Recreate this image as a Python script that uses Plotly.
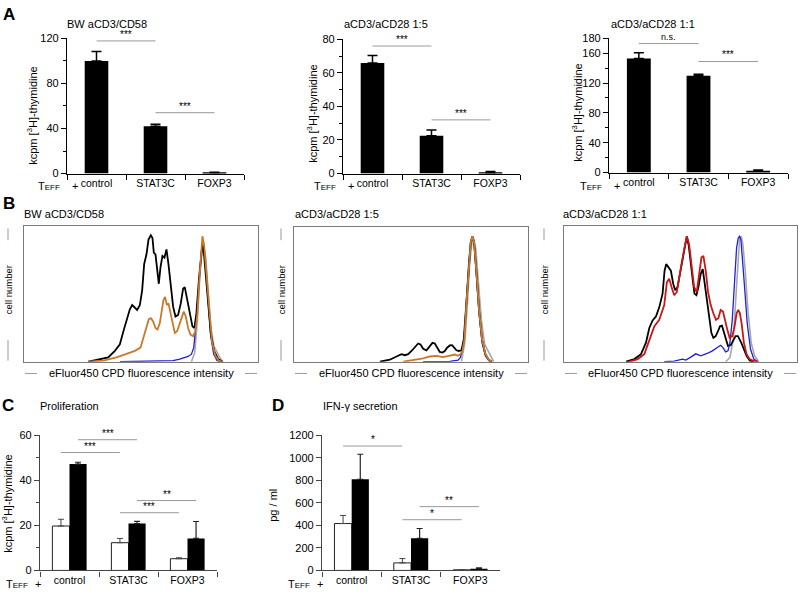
import plotly.graph_objects as go

W, H = 800, 597
FONT = "Liberation Sans, Arial, sans-serif"

# ---------------- data ----------------
groups = ["control", "STAT3C", "FOXP3"]

a_titles = ["BW aCD3/CD58", "aCD3/aCD28 1:5", "aCD3/aCD28 1:1"]
a1_mean = [100, 42, 0.8]
a1_err = [8.4, 1.8, 0.3]
a2_mean = [65.9, 22.6, 0.5]
a2_err = [4.5, 3.3, 0.7]
a3_mean = [153, 129.7, 2.5]
a3_err = [7.7, 2.1, 1.0]
# significance: (from group, to group, level, label)
a1_sig = [(0, 1, 117.7, "***"), (1, 2, 54, "***")]
a2_sig = [(0, 1, 76, "***"), (1, 2, 32, "***")]
a3_sig = [(0, 1, 173, "n.s."), (1, 2, 149, "***")]

# Panel C (proliferation) white = without, black = with
c_white = [19.7, 12.3, 5.2]
c_white_err = [3.0, 1.9, 0.4]
c_black = [47.2, 20.8, 14.2]
c_black_err = [0.8, 1.0, 7.5]
# (from group, from series, to group, to series, level, label) series 0 white, 1 black
c_sig = [(0, 1, 1, 1, 58, "***"), (0, 0, 1, 0, 52.3, "***"),
         (1, 1, 2, 1, 31, "**"), (1, 0, 2, 0, 25.6, "***")]

# Panel D (IFN-gamma)
d_white = [416, 67, 5]
d_white_err = [72, 38, 1]
d_black = [808, 285, 15]
d_black_err = [223, 87, 8]
d_sig = [(0, 1, 1, 1, 1220, "*"), (0, 0, 1, 0, 1104, "*"),
         (1, 1, 2, 1, 566, "**"), (1, 0, 2, 0, 450, "*")]

# Panel B histograms (fluorescence channel, cell count)
h1_black_x = [205,240,265,285,300,312,320,330,337,345,352,360,367,373,380,386,393,398,402,407,412,417,422,428,434,440,446,453,460,467,475,483,490,495,502,510,518,524,530,538,544,548,552,558,565,573,583,595,608]
h1_black_y = [0,8,13,33,53,98,128,160,173,166,158,173,218,298,328,373,386,378,333,328,288,238,288,323,318,343,298,228,168,138,143,178,223,228,188,143,108,103,148,258,328,358,338,268,168,88,33,8,0]
h1_orange_x = [205,250,290,320,345,362,372,380,387,393,400,407,413,420,426,431,436,441,446,452,458,465,472,480,487,492,498,505,512,520,527,533,538,543,548,553,560,568,577,587,597,607]
h1_orange_y = [0,3,13,23,33,43,78,113,130,133,123,103,98,118,163,188,198,173,178,148,113,88,93,118,143,153,138,103,83,78,93,148,238,328,383,358,268,148,58,18,3,0]
h1_blue_x = [300,400,460,480,495,505,515,522,528,534,540,545,549,553,558,565,573,582,592,602]
h1_blue_y = [0,1,3,8,13,16,23,43,108,198,288,338,353,343,288,178,78,23,3,0]
h1_gray_x = [515,525,533,540,547,552,558,565,573,582,592,600,610]
h1_gray_y = [0,28,128,258,338,353,318,218,108,48,28,13,0]

h2_black_x = [270,300,320,335,345,355,365,375,385,392,400,410,420,428,435,443,450,458,465,472,480,487,493,500,507,515,522,530,537,543,548,553,560,568,577,587,597,607]
h2_black_y = [0,6,16,23,20,23,33,46,56,53,40,35,50,58,56,43,30,28,33,43,50,51,43,35,33,35,68,178,298,368,386,368,278,158,68,23,6,0]
h2_orange_x = [340,370,400,420,440,460,480,495,505,512,518,524,530,537,543,548,553,560,568,577,587,597,607]
h2_orange_y = [0,4,10,16,18,14,18,22,18,23,33,68,178,298,368,386,368,278,158,68,23,6,0]
h2_blue_x = [400,480,505,512,518,524,530,537,543,548,553,560,568,577,587,600]
h2_blue_y = [0,1,5,13,38,88,188,308,368,383,363,268,148,58,18,0]
h2_gray_x = [515,525,533,540,547,552,558,566,575,585,595,603,612]
h2_gray_y = [0,58,178,308,368,378,348,238,128,53,33,18,0]

h3_black_x = [215,240,260,275,285,295,305,315,325,331,336,343,350,357,363,370,378,385,392,398,404,410,416,421,427,433,440,446,452,458,465,472,478,485,492,498,504,510,516,522,530,538,545,552,558,563,570,578,588,600]
h3_black_y = [0,8,23,58,103,126,138,166,208,278,298,288,278,238,218,228,273,308,358,383,353,308,248,208,203,228,268,283,238,178,128,88,73,78,93,108,110,88,63,48,50,63,78,78,68,56,38,18,3,0]
h3_red_x = [225,250,270,285,300,315,330,338,345,352,360,368,375,382,390,398,405,412,420,428,435,442,448,455,462,470,478,486,493,500,507,514,520,527,535,542,548,553,558,563,570,578,587,598,610]
h3_red_y = [0,8,23,68,108,128,173,243,253,228,203,213,263,298,343,383,358,298,228,213,268,318,323,278,213,173,148,128,133,158,153,118,98,73,78,108,148,158,148,118,58,23,8,3,0]
h3_blue_x = [330,360,385,395,410,425,440,455,465,475,485,495,500,507,515,522,528,535,542,548,553,557,561,566,572,580,590,600,612]
h3_blue_y = [0,2,8,5,14,24,18,23,28,33,40,48,50,43,30,33,58,128,248,348,378,383,373,318,228,118,38,8,0]
h3_gray_x = [515,528,538,546,552,557,562,567,574,582,592,602,615]
h3_gray_y = [0,13,68,208,328,378,383,358,278,158,58,18,0]

# ---------------- helpers ----------------
def px(x):
    return x / W

def py(y):
    return 1 - y / H

def dx(x0, x1):
    return [px(x0), px(x1)]

def dy(y0, y1):
    return [py(y1), py(y0)]

fig = go.Figure()
annotations = []
shapes = []
layout = dict(width=W, height=H, margin=dict(l=0, r=0, t=0, b=0),
              plot_bgcolor="white", paper_bgcolor="white", showlegend=False,
              font=dict(family=FONT, size=11, color="black"))

def ann(x, y, text, size=11, angle=0, bold=False, color="black"):
    if bold:
        text = "<b>" + text + "</b>"
    annotations.append(dict(x=px(x), y=py(y), xref="paper", yref="paper", text=text,
                            showarrow=False, xanchor="center", yanchor="middle",
                            textangle=angle, font=dict(size=size, color=color, family=FONT)))

def cat_xaxis(name, dom, linecolor):
    layout[name] = dict(domain=dom, type="category", categoryorder="array", categoryarray=groups,
                        range=[-0.5, 2.5], tickson="boundaries", ticks="outside", ticklen=5,
                        tickcolor=linecolor, showline=True, linecolor=linecolor, linewidth=1.2,
                        showgrid=False, zeroline=False, tickfont=dict(size=10.5),
                        anchor=name.replace("xaxis", "y"))

def num_yaxis(name, dom, rng, tickvals, minor_vals, linecolor):
    d = dict(domain=dom, range=rng, tickvals=tickvals, ticks="outside", ticklen=5,
             tickcolor=linecolor, showline=True, linecolor=linecolor, linewidth=1.2,
             showgrid=False, zeroline=False, tickfont=dict(size=11),
             anchor=name.replace("yaxis", "x"))
    if minor_vals:
        d["minor"] = dict(tickvals=minor_vals, ticks="outside", ticklen=3, tickcolor=linecolor, showgrid=False)
    layout[name] = d

def teff(axis_x, y, tdx, plusdx):
    ann(axis_x - tdx, y, "T<span style='font-size:8px'>EFF</span>", size=11)
    ann(axis_x + plusdx, y, "+", size=11)

# ---------------- Panel A ----------------
a_specs = [
    ("", 67, 244, 33, 171, a1_mean, a1_err, a1_sig, [0, 120], [0, 40, 80, 120], [20, 60, 100], 32, 112, 106.5),
    ("2", 343, 520, 34, 171, a2_mean, a2_err, a2_sig, [0, 80], [0, 20, 40, 60, 80], [10, 30, 50, 70], 312, 110, 385.5),
    ("3", 609, 788, 33, 170, a3_mean, a3_err, a3_sig, [0, 180], [0, 40, 80, 120, 160, 180], [20, 60, 100, 140], 577, 109, 653),
]
for i, (sfx, x0, x1, y0, y1, mean, err, sig, rng, tv, mv, ytx, yty, tcx) in enumerate(a_specs):
    xa, ya = "x" + sfx, "y" + sfx
    cat_xaxis("xaxis" + sfx, dx(x0, x1), "black")
    num_yaxis("yaxis" + sfx, dy(y0, y1), rng, tv, mv, "black")
    fig.add_trace(go.Bar(x=groups, y=mean, width=0.4, xaxis=xa, yaxis=ya,
                         marker=dict(color="black", line=dict(width=0)),
                         error_y=dict(type="data", array=err, arrayminus=[0] * 3, symmetric=False,
                                      color="black", thickness=1.5, width=5)))
    for (g0, g1, lvl, lab) in sig:
        shapes.append(dict(type="line", xref=xa, yref=ya, x0=g0, x1=g1, y0=lvl, y1=lvl,
                           line=dict(color="#999999", width=1)))
        annotations.append(dict(x=(g0 + g1) / 2, y=lvl, xref=xa, yref=ya, text=lab, showarrow=False,
                                xanchor="center", yanchor="bottom", yshift=-1 if lab != "n.s." else 0,
                                font=dict(size=10 if lab != "n.s." else 9, family=FONT, color="black")))
    ann(tcx, 18, a_titles[i], size=11)
    ann(ytx, yty, "kcpm [<sup>3</sup>H]-thymidine", size=11, angle=-90)
    teff(x0, 184, 18, 8)

ann(8.5, 9, "A", size=17, bold=True)

# ---------------- Panel B ----------------
hist = [
    ("4", 24, 258, 225, 363, [12, 715], 64,
     [(h1_gray_x, h1_gray_y, "#a8a8a8", 1.6), (h1_blue_x, h1_blue_y, "#1f1fd6", 1.3),
      (h1_black_x, h1_black_y, "black", 1.8), (h1_orange_x, h1_orange_y, "#c87a2a", 1.8)]),
    ("5", 294, 528, 226, 363, [12, 715], 336.5,
     [(h2_gray_x, h2_gray_y, "#a8a8a8", 1.6), (h2_blue_x, h2_blue_y, "#1f1fd6", 1.3),
      (h2_black_x, h2_black_y, "black", 1.8), (h2_orange_x, h2_orange_y, "#c87a2a", 1.8)]),
    ("6", 564, 797, 225, 363, [28, 730], 605,
     [(h3_gray_x, h3_gray_y, "#a8a8a8", 1.6), (h3_black_x, h3_black_y, "black", 1.8),
      (h3_blue_x, h3_blue_y, "#1f1fd6", 1.3), (h3_red_x, h3_red_y, "#cc1515", 1.8)]),
]
for i, (sfx, x0, x1, y0, y1, xr, tcx, curves) in enumerate(hist):
    xa, ya = "x" + sfx, "y" + sfx
    layout["xaxis" + sfx] = dict(domain=dx(x0, x1), range=xr, showline=True, mirror=True,
                                 linecolor="#7a7a7a", linewidth=1, showticklabels=False, ticks="",
                                 showgrid=False, zeroline=False, anchor=ya)
    layout["yaxis" + sfx] = dict(domain=dy(y0, y1), range=[0, 413], showline=True, mirror=True,
                                 linecolor="#7a7a7a", linewidth=1, showticklabels=False, ticks="",
                                 showgrid=False, zeroline=False, anchor=xa)
    for (cx, cy, col, lw) in curves:
        fig.add_trace(go.Scatter(x=cx, y=cy, mode="lines", line=dict(color=col, width=lw),
                                 xaxis=xa, yaxis=ya, hoverinfo="skip"))
    ann(tcx, 212, a_titles[i], size=11)
    # y label with decorations
    lx = [8, 281, 544][i]
    ann(lx, 290, "cell number", size=9.5, angle=-90)
    for (s0, s1) in [(227, 239), (341, 362)]:
        shapes.append(dict(type="line", xref="paper", yref="paper", x0=px(lx), x1=px(lx),
                           y0=py(s0), y1=py(s1), line=dict(color="#9a9a9a", width=1)))
    # x label with decorations
    mid = (x0 + x1) / 2
    ann(mid, 375, "eFluor450 CPD fluorescence intensity", size=11)
    for (s0, s1) in [(x0 + 1, x0 + 13), (x1 - 13, x1 - 1)]:
        shapes.append(dict(type="line", xref="paper", yref="paper", x0=px(s0), x1=px(s1),
                           y0=py(375), y1=py(375), line=dict(color="#9a9a9a", width=1)))

ann(9, 202, "B", size=17, bold=True)

# ---------------- Panels C and D ----------------
BW = 0.29
cd = [
    ("7", 40, 217, c_white, c_white_err, c_black, c_black_err, c_sig, [0, 60], [0, 20, 40, 60], [10, 30, 50],
     "Proliferation", 69.5, (7, 508, "kcpm [<sup>3</sup>H]-thymidine"), 7.5, "C"),
    ("8", 322, 500, d_white, d_white_err, d_black, d_black_err, d_sig, [0, 1200],
     [0, 200, 400, 600, 800, 1000, 1200], None, "IFN-γ secretion", 360, (273, 510, "pg / ml"), 277.5, "D"),
]
for (sfx, x0, x1, wv, we, bv, be, sig, rng, tv, mv, title, tcx, ytitle, lx, letter) in cd:
    xa, ya = "x" + sfx, "y" + sfx
    cat_xaxis("xaxis" + sfx, dx(x0, x1), "#444444")
    num_yaxis("yaxis" + sfx, dy(438, 576), rng, tv, mv, "#444444")
    fig.add_trace(go.Bar(x=groups, y=wv, width=BW, offset=-BW, xaxis=xa, yaxis=ya,
                         marker=dict(color="white", line=dict(color="#222222", width=1)),
                         error_y=dict(type="data", array=we, arrayminus=[0] * 3, symmetric=False,
                                      color="#444444", thickness=1, width=3)))
    fig.add_trace(go.Bar(x=groups, y=bv, width=BW, offset=0, xaxis=xa, yaxis=ya,
                         marker=dict(color="black", line=dict(width=0)),
                         error_y=dict(type="data", array=be, arrayminus=[0] * 3, symmetric=False,
                                      color="#222222", thickness=1.2, width=3)))
    for (g0, s0, g1, s1, lvl, lab) in sig:
        xa0 = g0 + (BW / 2 if s0 else -BW / 2)
        xa1 = g1 + (BW / 2 if s1 else -BW / 2)
        shapes.append(dict(type="line", xref=xa, yref=ya, x0=xa0, x1=xa1, y0=lvl, y1=lvl,
                           line=dict(color="#999999", width=1)))
        annotations.append(dict(x=(xa0 + xa1) / 2, y=lvl, xref=xa, yref=ya, text=lab, showarrow=False,
                                xanchor="center", yanchor="bottom", yshift=-1,
                                font=dict(size=10, family=FONT, color="black")))
    ann(tcx, 408, title, size=11)
    ann(ytitle[0], ytitle[1], ytitle[2], size=11, angle=-90)
    teff(x0, 590, 23, -2)
    ann(lx, 408, letter, size=17, bold=True)

layout["barmode"] = "overlay"
layout["annotations"] = annotations
layout["shapes"] = shapes
fig.update_layout(**layout)
fig.write_html("out.html", config={"displayModeBar": False},
               post_script="document.body.style.margin='0px';document.body.style.padding='0px';")
